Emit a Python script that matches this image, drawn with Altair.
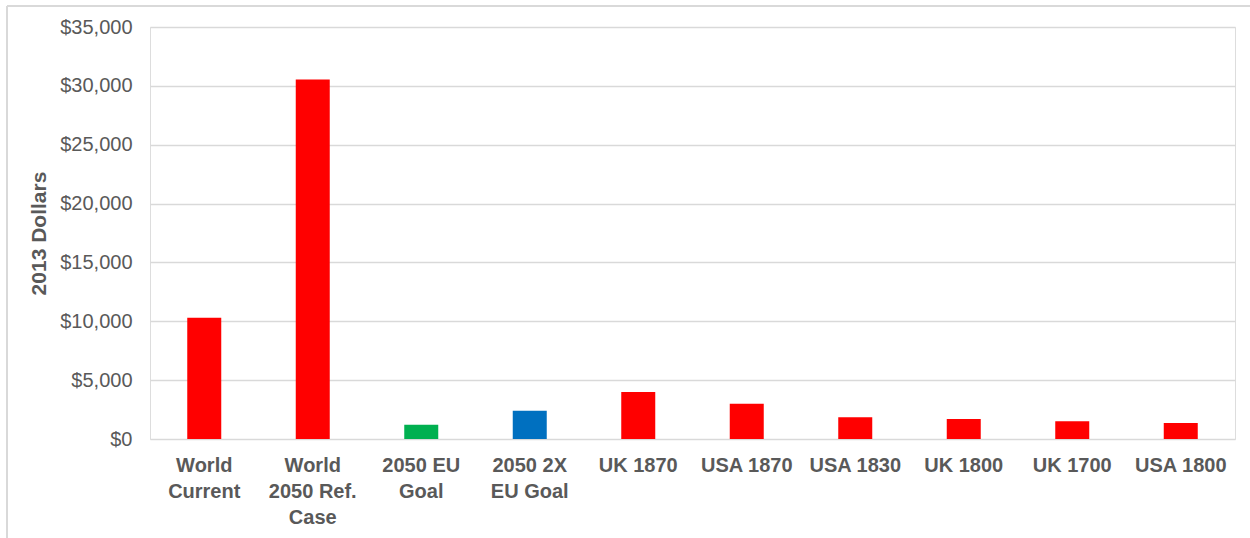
import altair as alt
import pandas as pd

categories = ["World|Current", "World|2050 Ref.|Case", "2050 EU|Goal", "2050 2X|EU Goal",
              "UK 1870", "USA 1870", "USA 1830", "UK 1800", "UK 1700", "USA 1800"]
values = [10300, 30550, 1200, 2400, 4000, 3000, 1850, 1700, 1500, 1350]
colors = ["#FF0000", "#FF0000", "#00B050", "#0070C0", "#FF0000",
          "#FF0000", "#FF0000", "#FF0000", "#FF0000", "#FF0000"]
y_ticks = [0, 5000, 10000, 15000, 20000, 25000, 30000, 35000]

df = pd.DataFrame({"cat": categories, "val": values, "col": colors})

FONT = "Liberation Sans"
GRAY = "#595959"
GRID = "#d9d9d9"

bars = alt.Chart(df).mark_bar(size=34).encode(
    x=alt.X("cat:N", sort=None, title=None,
            axis=alt.Axis(labelAngle=0, labelExpr="split(datum.value, '|')",
                          labelFont=FONT, labelFontSize=20, labelFontWeight="bold",
                          labelColor=GRAY, labelLineHeight=26, labelPadding=16,
                          labelBaseline="top", ticks=False, domain=False,
                          labelOverlap=False, labelLimit=0)),
    y=alt.Y("val:Q", title="2013 Dollars",
            scale=alt.Scale(domain=[0, 35000], nice=False),
            axis=alt.Axis(values=y_ticks, format="$,.0f", labelFont=FONT,
                          labelFontSize=20, labelColor=GRAY, labelPadding=18,
                          ticks=False, domain=False, grid=True, gridColor=GRID,
                          gridWidth=1.5, titleFont=FONT, titleFontSize=21,
                          titleFontWeight="bold", titleColor=GRAY, titlePadding=10)),
    color=alt.Color("col:N", scale=None, legend=None),
)

frame_left = alt.Chart(df).mark_rule(color=GRID, strokeWidth=1.5).encode(
    x=alt.value(-143), y=alt.value(-21), y2=alt.value(540)
)
frame_top = alt.Chart(df).mark_rule(color=GRID, strokeWidth=1.5).encode(
    x=alt.value(-143), x2=alt.value(1110), y=alt.value(-21)
)

chart = alt.layer(frame_left, frame_top, bars).properties(
    width=1085, height=412,
    autosize=alt.AutoSizeParams(type="none"),
    padding={"left": 150, "top": 27, "right": 15, "bottom": 99},
).configure_view(stroke=None).configure(background="white")

chart.save("out.html", embed_options={"renderer": "svg", "actions": False})
